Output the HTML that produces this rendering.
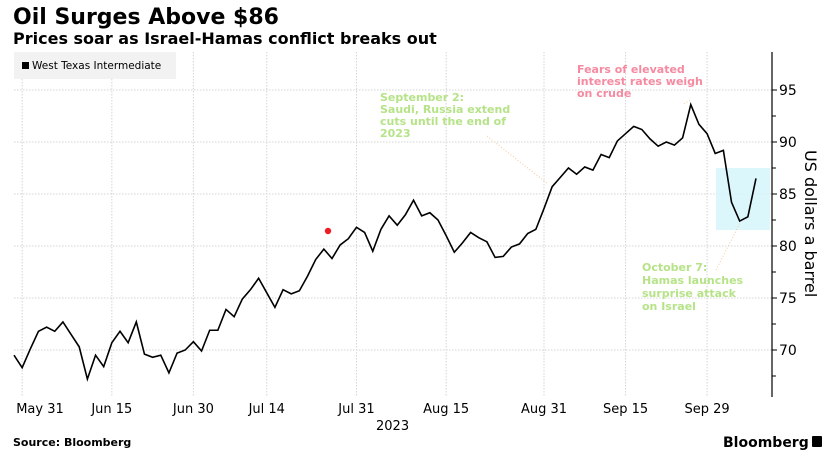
<!DOCTYPE html>
<html><head><meta charset="utf-8"><style>
body{margin:0;background:#fff;width:834px;height:467px;overflow:hidden}
svg{display:block}
.t{font-family:"DejaVu Sans","Liberation Sans",sans-serif}
</style></head><body>
<svg id="c" width="834" height="467">
<text class="t" x="13" y="24" font-size="22" font-weight="bold" fill="#000">Oil Surges Above $86</text>
<text class="t" x="13" y="44" font-size="16" font-weight="bold" fill="#000">Prices soar as Israel-Hamas conflict breaks out</text>
<g id="grid"></g>
<rect x="14" y="52" width="162" height="27" fill="#f2f2f2"/>
<rect x="22" y="62" width="7" height="7" fill="#000"/>
<text class="t" x="32" y="69" font-size="10.5" fill="#000">West Texas Intermediate</text>
<rect x="716" y="168" width="54" height="62" fill="#d6f6fa" opacity="0.85"/>
<g id="marks"></g>
<circle cx="328" cy="231" r="3.2" fill="#ee1c25"/>
<line x1="487" y1="136" x2="548" y2="184" stroke="#f5c89a" stroke-dasharray="1,2"/>
<line x1="684" y1="104" x2="690" y2="100" stroke="#f5c89a" stroke-dasharray="1,2"/>
<line x1="716" y1="270" x2="740" y2="223" stroke="#f5c89a" stroke-dasharray="1,2"/>
<g class="t" font-size="11" font-weight="bold" fill="#b6e388">
<text x="380" y="101">September 2:</text><text x="380" y="113">Saudi, Russia extend</text><text x="380" y="125">cuts until the end of</text><text x="380" y="137">2023</text></g>
<g class="t" font-size="11" font-weight="bold" fill="#f58aa0">
<text x="577" y="73">Fears of elevated</text><text x="577" y="85">interest rates weigh</text><text x="577" y="97">on crude</text></g>
<g class="t" font-size="11" font-weight="bold" fill="#b6e388">
<text x="642" y="271">October 7:</text><text x="642" y="284">Hamas launches</text><text x="642" y="297">surprise attack</text><text x="642" y="310">on Israel</text></g>
<line x1="772" y1="52" x2="772" y2="397" stroke="#000" stroke-width="1.2"/>
<g id="yt"></g>
<g id="xt"></g>
<text class="t" x="376" y="430" font-size="13" fill="#000">2023</text>
<text class="t" font-size="16" fill="#000" transform="translate(805,150) rotate(90)">US dollars a barrel</text>
<text class="t" x="13" y="446" font-size="11" font-weight="bold" fill="#000">Source: Bloomberg</text>
<text class="t" x="723" y="447" font-size="14" font-weight="bold" fill="#000">Bloomberg</text>
<rect x="812" y="436" width="10" height="11" rx="1" fill="#000"/>
</svg>
<script>
const prices=[69.5,68.3,70.1,71.8,72.2,71.8,72.7,71.5,70.3,67.2,69.5,68.4,70.7,71.8,70.7,72.7,69.6,69.3,69.5,67.8,69.7,70.0,70.8,69.9,71.9,71.9,73.9,73.2,74.9,75.8,76.9,75.5,74.1,75.8,75.4,75.7,77.1,78.7,79.7,78.8,80.1,80.7,81.8,81.3,79.5,81.6,82.9,82.0,83.0,84.4,82.9,83.2,82.5,81.0,79.4,80.3,81.3,80.8,80.4,78.9,79.0,79.9,80.2,81.2,81.6,83.6,85.7,86.6,87.5,86.9,87.6,87.3,88.8,88.5,90.1,90.8,91.5,91.2,90.3,89.6,90.0,89.7,90.4,93.6,91.7,90.8,88.9,89.2,84.2,82.4,82.8,86.5];
const yTicks=[70,75,80,85,90,95];
const xLabels=["May 31","Jun 15","Jun 30","Jul 14","Jul 31","Aug 15","Aug 31","Sep 15","Sep 29"];
const xLabelIdx=[1,12,22,31,42,53,65,75,85];
const NS="http://www.w3.org/2000/svg";
const X0=14,X1=756;
function xs(i){return X0+(X1-X0)*i/(prices.length-1);}
function ys(v){return 90+(95-v)*10.4;}
function mk(t,a,p){const e=document.createElementNS(NS,t);for(const k in a)e.setAttribute(k,a[k]);p.appendChild(e);return e;}
const grid=document.getElementById('grid'),yt=document.getElementById('yt'),xt=document.getElementById('xt'),marks=document.getElementById('marks');
yTicks.forEach(v=>{
const g=mk('line',{x1:14,x2:772,y1:ys(v),y2:ys(v),stroke:'#d4d4d4','stroke-dasharray':'1.5,1.5'},grid);


const tk=mk('line',{x1:772,x2:777,y1:ys(v),y2:ys(v),stroke:'#000'},yt);


const m=mk('line',{x1:772,x2:776,y1:ys(v-2.5),y2:ys(v-2.5),stroke:'#000'},yt);


const t=mk('text',{x:779,y:ys(v)+5,'font-size':14,'class':'t'},yt);t.textContent=v;


});
xLabels.forEach((l,k)=>{
const x=xs(xLabelIdx[k]);
const g=mk('line',{x1:x,x2:x,y1:52,y2:397,stroke:'#d4d4d4','stroke-dasharray':'1.5,1.5'},grid);


const t=mk('text',{x:(k===0?40:x),y:413,'font-size':13,'text-anchor':'middle','class':'t'},xt);t.textContent=l;


});
const p=mk('polyline',{points:prices.map((v,i)=>xs(i)+','+ys(v)).join(' '),fill:'none',stroke:'#000','stroke-width':1.6,'stroke-linejoin':'miter'},marks);


</script>
</body></html>
